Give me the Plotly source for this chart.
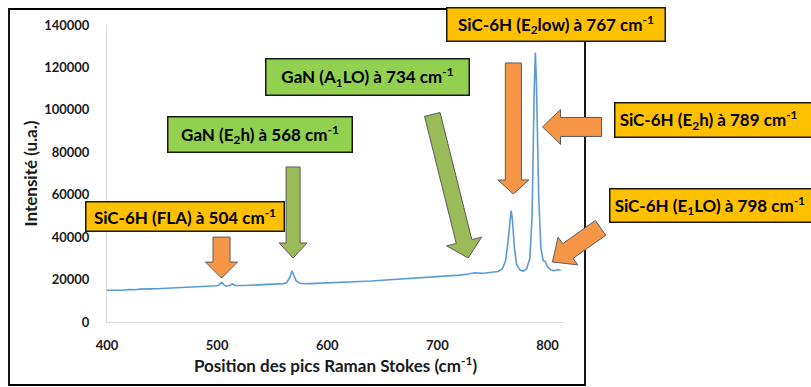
import numpy as np
import plotly.graph_objects as go

# ---------------- data ----------------
wavenumber = [400, 405, 410, 415, 420, 425, 430, 435, 440, 445, 450, 455, 460, 465, 470,
              475, 480, 485, 490, 495, 500, 502, 504, 506, 508, 511, 514, 516, 520, 525,
              530, 535, 540, 545, 550, 555, 560, 563, 566, 568, 570, 572, 575, 580, 585,
              590, 595, 600, 610, 620, 630, 640, 650, 660, 670, 680, 690, 700, 710, 720,
              728, 734, 740, 745, 750, 755, 759, 762, 764, 766, 767, 768, 770, 772, 775,
              778, 781, 784, 786, 788, 789, 790, 792, 794, 796, 798, 800, 803, 806, 809, 812]
intensity = [15000, 14900, 15100, 15000, 15300, 15200, 15500, 15400, 15600, 15700, 15800,
             15900, 16000, 16100, 16200, 16300, 16500, 16600, 16700, 16900, 17100, 17500,
             18700, 17600, 17000, 17100, 18000, 17200, 17100, 17200, 17300, 17400, 17500,
             17600, 17700, 17900, 18100, 18500, 21000, 24000, 21500, 19200, 18300, 18000,
             18100, 18200, 18200, 18300, 18500, 18800, 19000, 19300, 19700, 20000, 20300,
             20700, 21000, 21400, 21700, 22100, 22600, 23200, 22900, 23100, 23300, 23800,
             25000, 29000, 37000, 48000, 52500, 49000, 35000, 27000, 24500, 24000, 25000,
             30000, 50000, 110000, 127000, 112000, 60000, 35000, 29000, 28500, 26000, 24500,
             24200, 24600, 24400]

x_ticks = [400, 500, 600, 700, 800]
y_ticks = [0, 20000, 40000, 60000, 80000, 100000, 120000, 140000]
y_tick_text = ["0", "20000", "40000", "60000", "80000", "100000", "120000", "140000"]
x_title = "Position des pics Raman Stokes (cm<sup>-1</sup>)"
y_title = "Intensité (u.a.)"

labels = [
    "SiC-6H (FLA) à 504 cm<sup>-1</sup>",
    "GaN (E<sub>2</sub>h) à 568 cm<sup>-1</sup>",
    "GaN (A<sub>1</sub>LO) à 734 cm<sup>-1</sup>",
    "SiC-6H (E<sub>2</sub>low) à 767 cm<sup>-1</sup>",
    "SiC-6H (E<sub>2</sub>h) à 789 cm<sup>-1</sup>",
    "SiC-6H (E<sub>1</sub>LO) à 798 cm<sup>-1</sup>",
]
label_colors = ["#FFC000", "#92D050", "#92D050", "#FFC000", "#FFC000", "#FFC000"]
arrow_colors = ["#F79646", "#9BBB59", "#9BBB59", "#F79646", "#F79646", "#F79646"]
# arrow tips (in data units)
tip_x = [504, 569, 728, 769, 795.5, 804.5]
tip_y = [20700, 30170, 30170, 60350, 91940, 28290]

X_RANGE = [400, 815]
Y_RANGE = [0, 140000]

# ---------------- layout geometry (pixels) ----------------
W, H = 811, 387
PL, PR, PT, PB = 107, 564, 25, 322


def px2paper(px, py):
    return (px - PL) / (PR - PL), (PB - py) / (PB - PT)


def data2paper(x, y):
    return ((x - X_RANGE[0]) / (X_RANGE[1] - X_RANGE[0]),
            (y - Y_RANGE[0]) / (Y_RANGE[1] - Y_RANGE[0]))


# box: (center x, center y, width, height, text align)
boxes = [(185, 217, 200, 31, "center"), (260, 134.5, 186, 37, "center"),
         (367.5, 77, 205, 38, "center"), (556, 24.5, 220, 35, "center"),
         (714.5, 120, 201, 36, "left"), (712, 205.5, 206, 35, "left")]
# arrow: (direction dx, dy in screen px, length, shaft half, head half, head length)
arrows = [((0, 1), 41, 8.5, 16, 16), ((0, 1), 91, 7, 14, 15), ((36, 144), 148, 8, 18, 17),
          ((0, 1), 131, 8, 15.5, 14), ((-1, 0), 59, 9.5, 17.5, 18), ((-48, 34), 59, 9, 17, 19)]


def arrow_path(direction, length, sh, hh, hl):
    d = np.array(direction, dtype=float)
    d = d / np.linalg.norm(d)
    d = np.array([d[0], -d[1]])  # y up
    n = np.array([-d[1], d[0]])
    pts = [np.zeros(2),
           -d * hl + n * hh, -d * hl + n * sh, -d * length + n * sh,
           -d * length - n * sh, -d * hl - n * sh, -d * hl - n * hh]
    return "M" + " L".join(f"{p[0]:.2f},{p[1]:.2f}" for p in pts) + " Z"


fig = go.Figure()
fig.add_trace(go.Scatter(x=wavenumber, y=intensity, mode="lines",
                         line=dict(color="#5B9BD5", width=1.6), hoverinfo="skip"))

shapes = []
# outer chart border
x0, y0 = px2paper(9, 9)
x1, y1 = px2paper(585, 385)
shapes.append(dict(type="rect", xref="paper", yref="paper", x0=x0, y0=y0, x1=x1, y1=y1,
                   line=dict(color="#000000", width=1.8), layer="below"))

for i in range(len(labels)):
    d, L, sh, hh, hl = arrows[i]
    axp, ayp = data2paper(tip_x[i], tip_y[i])
    shapes.append(dict(type="path", xref="paper", yref="paper", xsizemode="pixel",
                       ysizemode="pixel", xanchor=axp, yanchor=ayp,
                       path=arrow_path(d, L, sh, hh, hl),
                       fillcolor=arrow_colors[i], line=dict(color="#5a5a5a", width=1),
                       layer="above"))

annotations = []
for i, txt in enumerate(labels):
    cx, cy, bw, bh, al = boxes[i]
    ax, ay = px2paper(cx, cy)
    if al == "left":
        txt = "\u00a0" + txt
    annotations.append(dict(text=txt, xref="paper", yref="paper", x=ax, y=ay,
                            xanchor="center", yanchor="middle", showarrow=False,
                            width=bw - 3, height=bh - 3, bgcolor=label_colors[i], align=al,
                            bordercolor="#1a1a1a", borderwidth=1.5, borderpad=0,
                            font=dict(family="Lato", size=17, color="#000000", weight="bold")))

fig.update_layout(
    width=W, height=H, margin=dict(l=PL, r=W - PR, t=PT, b=H - PB, autoexpand=False),
    paper_bgcolor="white", plot_bgcolor="white", showlegend=False,
    shapes=shapes, annotations=annotations,
    font=dict(family="Lato", color="#222222"),
    xaxis=dict(range=X_RANGE, tickvals=x_ticks, showgrid=False, zeroline=False,
               automargin=False,
               showline=True, linecolor="#d9d9d9", linewidth=1, ticks="",
               tickfont=dict(size=13, weight="bold", color="#1a1a1a"), ticklabelstandoff=11,
               title=dict(text=x_title, font=dict(size=17, weight="bold", color="#1a1a1a"),
                          standoff=8)),
    yaxis=dict(range=Y_RANGE, tickvals=y_ticks, ticktext=y_tick_text, showgrid=False,
               automargin=False,
               zeroline=False, showline=True, linecolor="#d9d9d9", linewidth=1, ticks="",
               tickfont=dict(size=13, weight="bold", color="#1a1a1a"), ticklabelstandoff=14,
               title=dict(text=y_title, font=dict(size=17, weight="bold", color="#1a1a1a"),
                          standoff=2)),
)

fig.write_html("out.html", config={"displayModeBar": False},
               post_script="document.body.style.margin='0';")
